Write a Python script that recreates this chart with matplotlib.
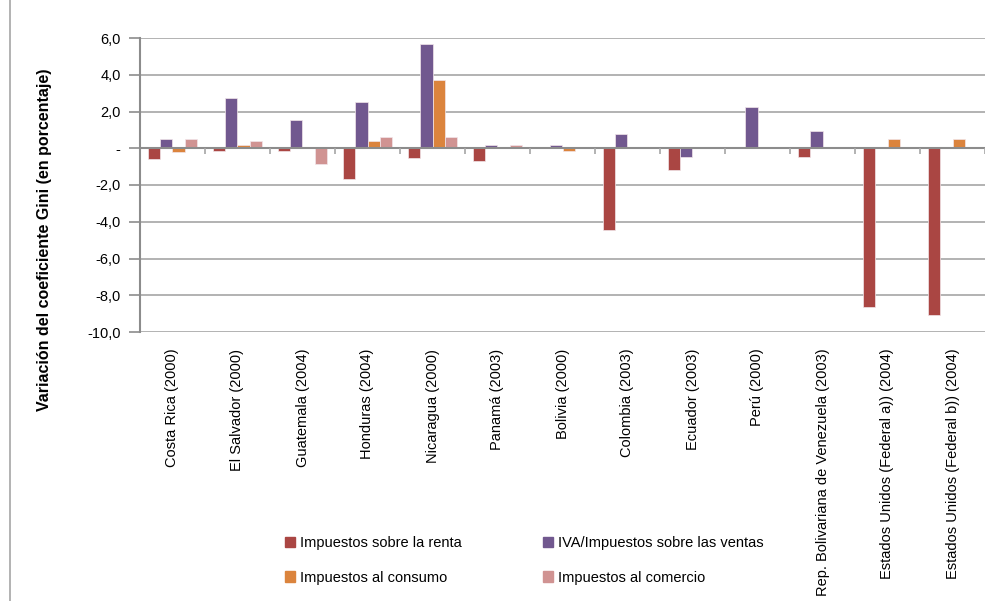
import numpy as np
import matplotlib
matplotlib.use("Agg")
import matplotlib.pyplot as plt
from matplotlib.patches import Patch
from matplotlib.lines import Line2D

plt.rcParams['font.family'] = ['Liberation Sans', 'DejaVu Sans']

paises = ["Costa Rica (2000)", "El Salvador (2000)", "Guatemala (2004)", "Honduras (2004)",
          "Nicaragua (2000)", "Panamá (2003)", "Bolivia (2000)", "Colombia (2003)",
          "Ecuador (2003)", "Perú (2000)", "Rep. Bolivariana de Venezuela (2003)",
          "Estados Unidos (Federal a)) (2004)", "Estados Unidos (Federal b)) (2004)"]

renta = [-0.6, -0.15, -0.15, -1.65, -0.55, -0.7, 0.0, -4.45, -1.2, 0.0, -0.5, -8.65, -9.1]
iva = [0.5, 2.75, 1.52, 2.53, 5.7, 0.18, 0.18, 0.78, -0.5, 2.24, 0.92, 0.0, 0.0]
consumo = [-0.18, 0.18, 0.0, 0.4, 3.71, 0.0, -0.15, 0.0, 0.0, 0.0, 0.0, 0.49, 0.49]
comercio = [0.5, 0.4, -0.85, 0.61, 0.61, 0.18, 0.0, 0.0, 0.0, 0.0, 0.0, 0.0, 0.0]

series = ["Impuestos sobre la renta", "IVA/Impuestos sobre las ventas",
          "Impuestos al consumo", "Impuestos al comercio"]
colores = ["#AA4643", "#71588F", "#DB843D", "#D09392"]

fig = plt.figure(figsize=(9.95, 6.01), dpi=100)
ax = fig.add_axes([140 / 995, 1 - 332 / 601, 845 / 995, 294 / 601])

x = np.arange(len(paises))
w = 0.185
for i, (vals, col) in enumerate(zip([renta, iva, consumo, comercio], colores)):
    ax.bar(x + (i - 1.5) * w, vals, width=w, color=col, edgecolor="#f2e6ea", linewidth=0.5, zorder=3)

ax.set_xlim(-0.5, len(paises) - 0.5)
ax.set_ylim(-10, 6)
yt = np.arange(-10, 7, 2)
ax.set_yticks(yt)
ax.set_yticklabels(["-" if v == 0 else f"{v:.1f}".replace(".", ",") for v in yt], fontsize=10.5)
ax.yaxis.grid(True, color="#a6a6a6", linewidth=1.2, zorder=0)
ax.tick_params(axis="y", length=8, width=1.2, color="#8c8c8c", pad=6)

ax.set_xticks(x)
ax.set_xticklabels(paises, rotation=90, va="top", ha="center", fontsize=10.5)
ax.tick_params(axis="x", length=0, pad=12)

# eje en cero con marcas entre categorías
ax.axhline(0, color="#8c8c8c", linewidth=1.5, zorder=4)
ax.vlines(np.arange(0.5, len(paises), 1), -0.3, 0, color="#a6a6a6", linewidth=1.2, zorder=4)

for s in ["top", "right", "bottom"]:
    ax.spines[s].set_visible(False)
ax.spines["left"].set_color("#8c8c8c")
ax.spines["left"].set_linewidth(1.5)

fig.text(45 / 995, 1 - 240 / 601, "Variación del coeficiente Gini (en porcentaje)",
         rotation=90, ha="center", va="center", fontsize=11.5, fontweight="bold")

handles = [Patch(color=c) for c in colores]
order = [0, 2, 1, 3]
fig.legend([handles[i] for i in order], [series[i] for i in order], ncol=2,
           loc="upper left", bbox_to_anchor=(272 / 995, 1 - 523 / 601), frameon=False,
           fontsize=10.5, handlelength=0.7, handleheight=0.7, handletextpad=0.3,
           columnspacing=5.6, labelspacing=1.4)

fig.add_artist(Line2D([10 / 995, 10 / 995], [0, 1], color="#a6a6a6", linewidth=1.2))

fig.savefig("out.png", dpi=100)
